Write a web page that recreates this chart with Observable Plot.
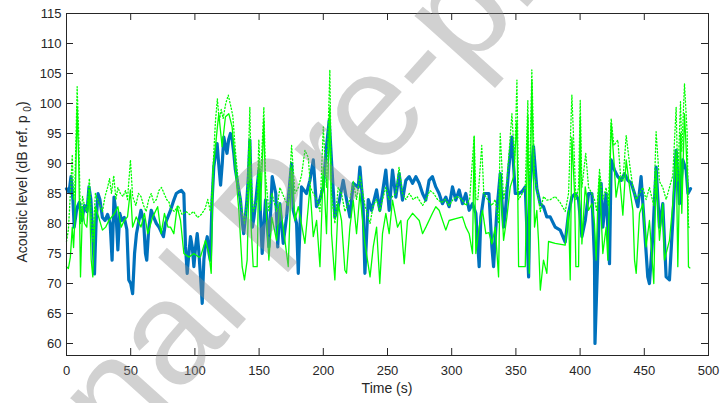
<!DOCTYPE html>
<html><head><meta charset="utf-8">
<script src="https://cdn.jsdelivr.net/npm/d3@7"></script>
<script src="https://cdn.jsdelivr.net/npm/@observablehq/plot@0.6"></script>
<style>body{margin:0;background:#fff;} #chart{position:relative;width:721px;height:403px;overflow:hidden}</style>
</head><body><div id="chart"></div>
<script>
// Blue (thick) series: time (s), level (dB)
const blueT = [0,2,3.5,5,6,8,10,12,14,16,17.5,19,20.5,21.8,23,24.5,26,28,30,32,34,35.5,37,38.5,40,41.5,43,45,47,48.5,50,51.5,53,54.5,56,58,60,61.5,62.5,64,66,68,70,72,74,75.5,77,79,81,83.6,85.5,87.5,89.5,91.4,92.7,94,95.3,96.6,98,99.2,100.5,101.8,103,104.4,105.7,107,108,109.6,111,112,113.4,114.7,116,117.3,118.5,120,121.3,122.5,123.7,125,126.3,127.7,129,130.3,131.5,132.9,134.2,135.5,136.8,138,139.3,140.5,141.7,142.8,143.8,144.8,146,147.5,149.8,151,152.4,153.8,155,156.3,157.6,159,160.2,162,163,164.5,166.2,168.8,171.4,175.3,176.6,179.2,180.5,183,186.9,189.6,192.2,194.7,197.3,200,202.5,204.6,206.5,209,211.6,215.5,218.1,220.7,223.3,227.2,228.5,231,232.4,235,237.6,241.5,244,246,248.7,251.3,253.9,256.5,259.1,261.7,264.3,266.9,269.5,272.1,274.7,277.3,279.8,282.4,285,287.6,290.2,292.8,295.4,298,300.6,303.2,305.8,308.4,311,313.6,316.2,318.8,321.4,322.7,325.3,329,331.3,332.6,335.2,337.8,340.4,341.7,344.3,346.9,349.5,352.1,354.7,357.3,359.9,361.2,363.7,366.3,368.9,371.5,374.1,376.7,380.6,384.5,388.4,391,393.6,396.2,398.8,401.4,404,406.6,409.2,411.2,411.6,412.5,413.8,415.1,416.4,417.7,420.3,422.9,424.2,426.8,429.4,432,434.6,437.2,439.8,442.4,445,447.5,450.1,452.7,454,456.6,459.2,461.8,464.4,467,469.6,472.2,474.8,477.4,480,482.6,484,486];
const blueV = [85.8,85.2,87.8,84,79.4,82.5,83.5,80.5,83,82,86.1,84,78,71.6,80,85,84,81,80.5,81.5,80,73.9,84.4,82,75.6,81.7,80.5,81,79,70.6,70,68.3,75,78.3,80,82.2,80.5,75,73.9,79,82.2,81,80,79.4,78.5,77.8,80,81.1,82.2,83.9,85,85.3,85.5,85,76.1,71.7,75,77.8,76,72.8,76,78.3,75.5,71.1,66.7,74,76.1,77.8,75,73.9,83.9,89.4,91.5,93.3,90,86.4,90,94.4,93,91.7,94,95,94,91.7,89,87.2,85.5,83.9,80.5,78.3,81,83.9,88,93.9,85,79.4,81,83.9,88.9,82,75,80,83.9,80,76.1,82,87.8,86,85,76.1,83.3,76.7,81.1,90,82.2,80,71.7,86.1,85,87.2,90.6,82.8,84,86.1,92.8,97.2,90,81.1,82.8,87.2,84,81.1,86.7,86,89.4,82.8,71.7,84,82.2,85.6,82.2,85,88.9,82.2,88.9,84.4,88.3,83.9,87.2,87.8,86.7,87.8,86.7,85,83.9,87.2,87.8,86.1,85,83.3,84.4,82.8,86.1,83.9,85.6,83.3,85,82.2,83.3,81.7,72.8,81.1,85,85,76.1,72.8,82.2,88.3,79.4,81.7,88.9,94.4,85,85,85.3,86.1,71.1,86.7,92.8,85.8,83.3,82.8,81.1,81.1,79.4,78.9,76.9,81.7,84.4,85,83.9,77.8,80.5,85,85,73.9,60,66.1,75,83.3,86.7,79.4,85,73.3,90.6,88.9,87.8,87.2,88.3,87.2,86.7,85,82.8,87.8,79.4,71.1,70,77.8,89.4,79.4,83.3,71.1,70.6,80.5,92.2,83.3,90.6,88.9,85,85.8];

// Green solid series
const greenT = [0,1.5,3,4.5,5.5,6.5,8.3,9.5,10.9,12.5,14,15.8,17.8,19.2,20.5,22.5,25,28,30.5,33,37.4,40,42.6,45,47.5,49.8,51.5,54.3,58,60.7,63.3,67.2,71,73.7,76.3,79,81,83.6,86.2,88.8,91.4,95.3,99.2,103,104.4,108.3,110.9,112.7,114.2,117.3,118.6,121.2,123.8,126.4,129,131.6,134.2,136.8,138.6,140.7,142.8,143.8,145.4,148.5,149.8,151.1,153.7,155,157.6,160,163.6,166.2,170.1,172.7,175.3,177.9,180.5,185.7,188.3,189.6,192.2,194.8,197.4,200,202.5,205.1,206.4,209,211.6,214.2,216.8,218.1,220.7,223.3,225.9,228.5,232.4,236.4,238.9,241.5,244,246.1,248.7,251.3,253.9,257.8,260.4,263,265.6,269.5,272.1,274.7,277.3,279.9,285,287.6,290.2,295.4,298,303.2,308.4,311,313.6,316.2,317.5,318.8,321.4,324,326.6,329,331.3,333.9,336.5,337.8,340.4,343,345.6,348.2,350.8,352.1,357.3,359.3,360.4,362.4,364.5,366.3,367.6,369,371.5,374.1,375.4,380.6,388.4,391,392.3,393.6,395.7,396.7,398.8,400.1,401.4,404,406.6,409.2,411.2,412.5,413.8,415.1,417.7,420.3,421.6,424.2,426.3,428,430.7,433.3,435.9,438.5,441.1,442.4,443.7,446.3,448.9,451.4,454,457.4,459.2,461.8,464.4,465.7,469.6,472.2,474.8,476.1,478.2,479.2,481.3,483.4,484.4,485.5];
const greenV = [72.8,72.5,74.4,79.4,76,80.5,99.4,90.5,71.1,82.8,80,79.4,85.6,74,71.1,82.8,81.1,78.9,79.4,80.5,81.7,82.8,79.4,80.5,81.1,85.6,79.4,81.1,79.4,81.7,78.3,81.1,82.8,78.3,81.7,79.4,79.4,78.3,82.8,80.5,75,74.4,75,74.4,74.5,77.2,75,71.7,88.9,95.6,98.3,92.8,97.8,98.3,96.1,88.9,82.2,72.8,70.6,73.9,93.9,79.4,72.8,72.8,90.6,82.2,97.2,84,73.9,81,77.2,83.3,77.2,72.8,89.4,80.5,82.8,76.7,82.8,86.1,77.8,80.5,72.8,89.4,78.3,99.4,78.3,70.6,83.3,80.5,72.2,71.7,79.4,83.9,78.3,85,76.7,71.1,76.1,79.4,70,78.3,81.7,78.3,83.9,79.4,80.5,73.3,80.5,81.7,81.1,80.5,78.3,79.4,81.7,82.8,82.2,78.9,80.5,80.8,81.1,79.4,78.3,75,94.4,75,79.4,82.2,78.3,78.5,76.6,79.4,71.1,88.3,77.2,81.1,86.1,87.8,97.2,72.8,72.8,98,71.7,103.9,79.4,82.2,77.2,68.9,73.9,71.7,77,76.7,76.4,82.2,70.6,94.4,85,72.8,72.8,97.8,76.6,86.1,82.2,83.3,80,73.9,83.3,87.8,75,79.4,73.9,96.7,90.6,84.4,87.8,81.4,90.6,86.1,82.2,73.9,71.7,81.7,83.3,76.1,80.5,70,88.9,77.2,83.3,73.9,77.2,83.3,92.2,72.8,95,81.7,98.3,88.9,72.8,72.6];

// Green dotted series
const dotT = [0,1.5,3,4.5,5.5,6.5,8.3,9.5,10.9,12.5,14,15.8,17.8,19.2,20.5,22.5,25,28,30,32,33.5,35,36.8,38.5,40,42,44,46,47.5,49.8,51.5,54,56,58,60,62,64,66,68,70,72,74,76,78,80,81,84,87,90,93,96,99,102,105,108,110,112,113.5,114.5,116,117.5,119,120.5,122,124,126,128,129.5,131.6,134.2,136.8,138.6,140.7,142.8,143.8,145.4,148.5,149.8,151.1,153.7,155,157.6,160,163.6,166.2,170.1,172.7,175.3,177.9,180.5,183,185.7,188.3,190,192.2,194.8,197.4,200,202.5,205.1,206.4,209,211.6,214.2,216.8,220.7,223.3,225.9,228.5,232.4,236.4,238.9,241.5,244,246.1,248.7,251.3,256.5,259,261.7,264.3,267,270,273,277.3,280,283,286,289,292,295,298,301,304,308,311,314,317.5,318.8,320.4,323.4,325,328,331.3,333.9,336.5,337.8,340.4,343,346.9,349,350.8,352.1,355,357.3,359.3,360.4,362.4,364.5,366.3,369,371.5,374.1,377,380.6,384.5,388.4,391,393.6,395.7,396.7,398.8,400.1,401.4,404.4,406.6,409.2,411.2,413,415.1,417.7,420.3,422,424.2,426.3,429.4,431.5,433.3,435.9,438.5,441.1,443.7,446.3,448.9,451.4,454,457.4,459.2,461.8,464.4,467,469.6,472.2,474.8,476.1,478.2,479.2,481.3,483.4,484.4,485.5];
const dotV = [77,79,85,91.5,84,86,102.8,95,80,84.5,83,82,87.5,82,77,85,83.5,82,84.5,86,87.5,85,88,84,86,85,84.5,85.5,84,90.6,84.5,83,85,84.5,83,82,84,85,83.5,84,85.5,86,85,84,83.5,82.5,82,83,81.5,82,81.5,82,81,81.5,82.5,84,82,86,91,97,100.8,97,99,97.5,100,101.4,99.5,98,92,86,82,80,84,99.4,88,82,84,94,87,99.4,88,82,85,82,86,84,83,93,85,86,88,92.2,91,86,85,84,82,96.1,86,105.6,85,80,86,85,82,84,87,84,88,83,80,83,84,82,84,86,84,85,89.4,85,84,85,84,84.5,83,84,85.5,85,84,83.5,84,83,84,84.5,84,83,84,94.7,84,84,93,85,84,83,84,80,95,84,87,98.3,90,103.9,84,85,86,100.5,84,105.6,88,86,82,84.5,83.9,84,84.5,83.5,82,85,101.4,90,84,86,100.5,86,91.7,86,85,84,82,89,84,86,83,97.5,93,93.9,88,87,94.7,90,86,84,85,86,84,86,83,95.3,87,86,84,86,88,99.4,87,100.3,92,103.3,95,79.4,79.4];

// Axis ticks
const xTicks = d3.range(0, 501, 50);
const yTicks = d3.range(60, 116, 5);

const rows = (T, V) => T.map((t, i) => ({t, v: V[i]}));

const W = 721, H = 403, mL = 66, mR = 13, mT = 13, mB = 48;
const frameW = W - mL - mR, frameH = H - mT - mB, tk = 7;
const axisColor = "#262626";

const chart = Plot.plot({
  width: W, height: H,
  marginLeft: mL, marginRight: mR, marginTop: mT, marginBottom: mB,
  style: {fontFamily: "'Liberation Sans', Arial, Helvetica, sans-serif", fontSize: "13px", color: axisColor, background: "white", overflow: "visible"},
  x: {domain: [0, 500]},
  y: {domain: [58, 115]},
  marks: [
    Plot.line(rows(blueT, blueV), {x: "t", y: "v", stroke: "#0072BD", strokeWidth: 3.2, strokeLinejoin: "round"}),
    Plot.line(rows(dotT, dotV), {x: "t", y: "v", stroke: "#00FF00", strokeWidth: 1.3, strokeDasharray: "1.2,2.2"}),
    Plot.line(rows(greenT, greenV), {x: "t", y: "v", stroke: "#00FF00", strokeWidth: 1.3}),
    Plot.frame({stroke: axisColor, strokeWidth: 1}),
    Plot.tickX(xTicks, {x: d => d, insetTop: frameH - tk, stroke: axisColor}),
    Plot.tickX(xTicks, {x: d => d, insetBottom: frameH - tk, stroke: axisColor}),
    Plot.tickY(yTicks, {y: d => d, insetRight: frameW - tk, stroke: axisColor}),
    Plot.tickY(yTicks, {y: d => d, insetLeft: frameW - tk, stroke: axisColor}),
    Plot.axisX(xTicks, {tickSize: 0, tickPadding: 10, label: null, fontSize: 13}),
    Plot.axisY(yTicks, {tickSize: 0, tickPadding: 5, label: null, fontSize: 13})
  ]
});

const svg = d3.select(chart);
const ff = "'Liberation Sans', Arial, Helvetica, sans-serif";
svg.append("text").attr("x", mL + frameW / 2).attr("y", 393)
  .attr("text-anchor", "middle").attr("font-family", ff).attr("font-size", 14).attr("fill", axisColor)
  .text("Time (s)");
const yl = svg.append("text").attr("transform", `translate(27,${mT + frameH / 2 - 2}) rotate(-90)`)
  .attr("text-anchor", "middle").attr("font-family", ff).attr("font-size", 14).attr("fill", axisColor);
yl.append("tspan").text("Acoustic level (dB ref. p ");
yl.append("tspan").attr("font-size", 10).attr("dy", 4).text("0");
yl.append("tspan").attr("dy", -4).text(")");

// Watermark
svg.append("text")
  .attr("transform", "translate(310,248) rotate(-48)")
  .attr("font-family", ff).attr("font-size", 147)
  .attr("fill", "#8c8c8c").attr("fill-opacity", 0.4)
  .attr("text-anchor", "middle")
  .text("Journal Pre-proof");

document.getElementById("chart").appendChild(chart);
</script>
</body></html>
